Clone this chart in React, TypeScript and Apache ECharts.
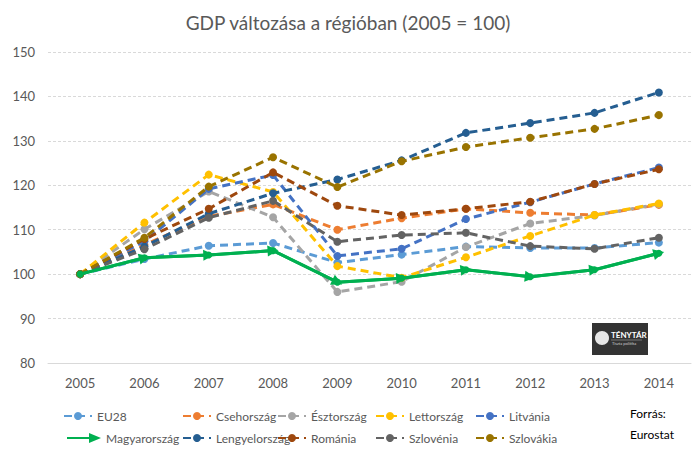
import React, { useEffect, useRef } from "react";
import * as echarts from "echarts";

const years = ["2005", "2006", "2007", "2008", "2009", "2010", "2011", "2012", "2013", "2014"];
const eu28 = [100, 103.4, 106.4, 107.0, 102.6, 104.4, 106.2, 105.9, 105.9, 107.1];
const cseh = [100, 106.6, 113.0, 115.7, 110.0, 112.6, 114.7, 113.8, 113.3, 115.6];
const eszt = [100, 110.1, 118.6, 112.8, 96.0, 98.3, 106.1, 111.4, 113.2, 115.8];
const lett = [100, 111.6, 122.4, 118.5, 101.8, 99.2, 103.8, 108.6, 113.3, 115.9];
const litv = [100, 107.4, 119.2, 122.3, 104.1, 105.7, 112.4, 116.2, 120.3, 124.0];
const magyar = [100, 103.7, 104.3, 105.3, 98.2, 99.1, 101.0, 99.4, 101.0, 104.7];
const lengyel = [100, 106.2, 113.6, 118.2, 121.3, 125.6, 131.8, 134.0, 136.3, 140.9];
const romania = [100, 107.9, 114.7, 122.9, 115.4, 113.3, 114.7, 116.3, 120.3, 123.6];
const szlovenia = [100, 105.6, 112.7, 116.5, 107.3, 108.8, 109.3, 106.3, 105.7, 108.2];
const szlovakia = [100, 108.2, 119.7, 126.3, 119.6, 125.4, 128.6, 130.7, 132.7, 135.8];

const names = ["EU28", "Csehország", "Észtország", "Lettország", "Litvánia", "Magyarország", "Lengyelország", "Románia", "Szlovénia", "Szlovákia"];
const colors = ["#5B9BD5", "#ED7D31", "#A5A5A5", "#FFC000", "#4472C4", "#00B050", "#255E91", "#9E480E", "#636363", "#997300"];
const values = [eu28, cseh, eszt, lett, litv, magyar, lengyel, romania, szlovenia, szlovakia];

const FONT = "Lato";
const TXT = "#595959";

export default function App() {
  const ref = useRef<HTMLDivElement>(null);
  useEffect(() => {
    if (!ref.current) return;
    const chart = echarts.init(ref.current, null, { renderer: "svg" });

    const series: any[] = [];
    values.forEach((v, i) => {
      const isHu = names[i] === "Magyarország";
      series.push({
        name: names[i],
        type: "line",
        data: v,
        z: isHu ? 5 : 2 + i * 0.01,
        symbol: "circle",
        symbolSize: isHu ? 7 : 8,
        showSymbol: true,
        itemStyle: { color: colors[i] },
        lineStyle: { color: colors[i], width: 3, type: isHu ? "solid" : [8, 5] },
      });
    });
    const huIdx = names.indexOf("Magyarország");
    const huData = values[huIdx];
    const segs = [] as any[];
    for (let k = 0; k < huData.length - 1; k++) {
      segs.push({ coords: [[k, huData[k]], [k + 1, huData[k + 1]]] });
    }
    series.push({
      type: "lines",
      coordinateSystem: "cartesian2d",
      z: 6,
      symbol: ["none", "triangle"],
      symbolSize: 11,
      silent: true,
      lineStyle: { color: colors[huIdx], width: 3, opacity: 1, curveness: 0 },
      data: segs,
    });

    const leftCols = [58, 177, 272, 370, 470];
    const legends = names.map((n, i) => {
      const row = i < 5 ? 0 : 1;
      const col = i % 5;
      const isHu = n === "Magyarország";
      return {
        left: isHu ? 62 : leftCols[col],
        top: row === 0 ? 405 : 427,
        itemWidth: isHu ? 34 : 28,
        itemHeight: 10,
        itemGap: 0,
        textStyle: { color: TXT, fontSize: 12, fontFamily: FONT },
        data: [
          isHu
            ? { name: n, icon: "path://M0,4 L22,4 L22,0 L34,5 L22,10 L22,6 L0,6 Z" }
            : { name: n },
        ],
      };
    });

    chart.setOption({
      animation: false,
      title: {
        text: "GDP változása a régióban (2005 = 100)",
        left: "center",
        top: 8,
        textStyle: { color: TXT, fontSize: 19, fontWeight: "normal", fontFamily: FONT },
      },
      grid: { left: 48, right: 5, top: 52, bottom: 90, containLabel: false },
      legend: legends,
      xAxis: {
        type: "category",
        data: years,
        boundaryGap: true,
        axisLine: { lineStyle: { color: "#D9D9D9", width: 1 } },
        axisTick: { show: false },
        axisLabel: { color: TXT, fontSize: 13, fontFamily: FONT, margin: 13 },
      },
      yAxis: {
        type: "value",
        min: 80,
        max: 150,
        interval: 10,
        axisLine: { show: false },
        axisTick: { show: false },
        splitLine: { lineStyle: { color: "#D9D9D9", type: [3, 2] } },
        axisLabel: { color: TXT, fontSize: 13, fontFamily: FONT, margin: 13 },
      },
      series,
      graphic: [
        { type: "text", left: 630, top: 407, style: { text: "Forrás:", fill: "#000", fontSize: 12, fontFamily: FONT } },
        { type: "text", left: 630, top: 428, style: { text: "Eurostat", fill: "#000", fontSize: 12, fontFamily: FONT } },
        {
          type: "group",
          left: 592,
          top: 323,
          children: [
            { type: "rect", shape: { x: 0, y: 0, width: 56, height: 32 }, style: { fill: "#333333" } },
            { type: "ellipse", shape: { cx: 10, cy: 15, rx: 7, ry: 7 }, style: { fill: "#e6e6e6" } },
            { type: "text", x: 19, y: 8, style: { text: "TÉNYTÁR", fill: "#ffffff", fontSize: 8, fontWeight: "bold", fontFamily: FONT } },
            { type: "line", shape: { x1: 19, y1: 17, x2: 50, y2: 17 }, style: { stroke: "#bbbbbb", lineWidth: 0.5 } },
            { type: "text", x: 20, y: 18, style: { text: "Tiszta politika", fill: "#cccccc", fontSize: 4, fontFamily: FONT } },
          ],
        },
      ],
    });
    return () => chart.dispose();
  }, []);
  return <div ref={ref} style={{ width: 696, height: 453, position: "absolute", left: 0, top: 0 }} />;
}
